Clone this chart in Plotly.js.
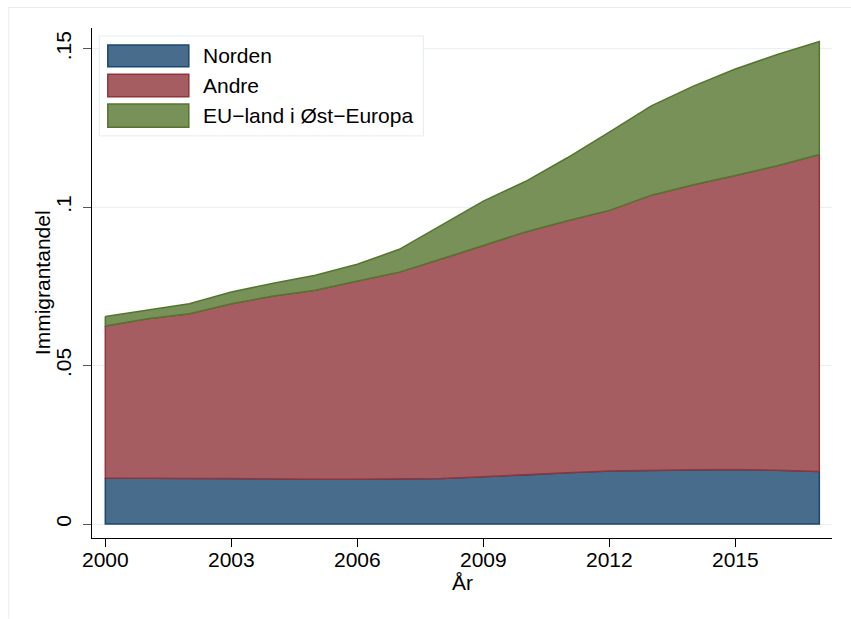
<!DOCTYPE html>
<html>
<head>
<meta charset="utf-8">
<script src="https://cdn.plot.ly/plotly-3.0.1.min.js"></script>
<style>
  html, body { margin: 0; padding: 0; background: #ffffff; }
  #chart { width: 851px; height: 619px; }
</style>
</head>
<body>
<div id="chart"></div>
<script>
// ---- Data ----
const years = [2000, 2001, 2002, 2003, 2004, 2005, 2006, 2007, 2008, 2009,
               2010, 2011, 2012, 2013, 2014, 2015, 2016, 2017];
const norden = [0.0145, 0.0145, 0.0144, 0.0144, 0.0143, 0.0141, 0.0141, 0.0142, 0.0144, 0.0149,
                0.0155, 0.0162, 0.0167, 0.0169, 0.0171, 0.0172, 0.0170, 0.0166];
const andre  = [0.0480, 0.0503, 0.0520, 0.0551, 0.0577, 0.0597, 0.0626, 0.0653, 0.0692, 0.0730,
                0.0767, 0.0795, 0.0823, 0.0869, 0.0900, 0.0928, 0.0961, 0.1000];
const euOst  = [0.0030, 0.0028, 0.0031, 0.0037, 0.0040, 0.0047, 0.0053, 0.0072, 0.0108, 0.0140,
                0.0159, 0.0199, 0.0247, 0.0282, 0.0311, 0.0336, 0.0351, 0.0357];
const seriesNames = ["Norden", "Andre", "EU\u2212land i \u00D8st\u2212Europa"];
const yTickVals = [0, 0.05, 0.1, 0.15];
const yTickText = ["0", ".05", ".1", ".15"];
const xTickVals = [2000, 2003, 2006, 2009, 2012, 2015];
const xTickText = ["2000", "2003", "2006", "2009", "2012", "2015"];
const xTitle = "\u00C5r";
const yTitle = "Immigrantandel";

// ---- Styles ----
const lineColors = ["#1a476f", "#90353b", "#55752f"];
const fillColors = ["#486c8c", "#a65d62", "#779159"];
const FONT = "Liberation Sans, Arial, Helvetica, sans-serif";

// Build stacked band polygons (each band outlined, like Stata's stacked areas)
const seriesVals = [norden, andre, euOst];
const traces = [];
let base = years.map(() => 0);
seriesVals.forEach((vals, i) => {
  const top = base.map((b, k) => b + vals[k]);
  const xs = years.concat(years.slice().reverse());
  const ys = top.concat(base.slice().reverse());
  traces.push({
    x: xs.concat([xs[0]]),
    y: ys.concat([ys[0]]),
    type: "scatter",
    mode: "lines",
    fill: "toself",
    fillcolor: fillColors[i],
    line: { color: lineColors[i], width: 1.5 },
    name: seriesNames[i],
    showlegend: false,
    hoverinfo: "skip"
  });
  base = top;
});

// ---- Geometry of the plot area (pixels) ----
const W = 851, H = 619;
const L = 91.7, R = 831.7, T = 28, B = 538.3;
const pw = R - L, ph = B - T;
const px = x => (x - L) / pw;
const py = y => (B - y) / ph;

// Custom legend (large swatches as in the reference)
const shapes = [];
const annotations = [];
shapes.push({ type: "rect", xref: "paper", yref: "paper",
  x0: px(99), x1: px(423), y0: py(136), y1: py(36),
  line: { color: "#e4ecee", width: 1 }, fillcolor: "#ffffff", layer: "above" });
const rows = [[45, 66.7], [74.3, 96.7], [104, 127.3]];
rows.forEach((r, i) => {
  shapes.push({ type: "rect", xref: "paper", yref: "paper",
    x0: px(107.5), x1: px(188.5), y0: py(r[1]), y1: py(r[0]),
    line: { color: lineColors[i], width: 1.5 }, fillcolor: fillColors[i], layer: "above" });
  annotations.push({ xref: "paper", yref: "paper",
    x: px(201), y: py((r[0] + r[1]) / 2), xanchor: "left", yanchor: "middle",
    text: seriesNames[i], showarrow: false,
    font: { family: FONT, size: 21, color: "#000000" } });
});
// axis titles
annotations.push({ xref: "paper", yref: "paper", x: px(461.7), y: py(583),
  xanchor: "center", yanchor: "middle", text: xTitle, showarrow: false,
  font: { family: FONT, size: 21, color: "#000000" } });
annotations.push({ xref: "paper", yref: "paper", x: px(43), y: py(283),
  xanchor: "center", yanchor: "middle", textangle: -90, text: yTitle, showarrow: false,
  font: { family: FONT, size: 21, color: "#000000" } });
// faint outer frame of the graph region
shapes.push({ type: "line", xref: "paper", yref: "paper",
  x0: px(8.5), x1: px(8.5), y0: py(619), y1: py(7.5),
  line: { color: "#e6eef0", width: 1 }, layer: "below" });
shapes.push({ type: "line", xref: "paper", yref: "paper",
  x0: px(8.5), x1: px(851), y0: py(7.5), y1: py(7.5),
  line: { color: "#e6eef0", width: 1 }, layer: "below" });

const layout = {
  width: W, height: H,
  margin: { l: L, r: W - R, t: T, b: H - B, pad: 0 },
  paper_bgcolor: "#ffffff",
  plot_bgcolor: "#ffffff",
  showlegend: false,
  font: { family: FONT, size: 21, color: "#000000" },
  xaxis: {
    range: [1999.683, 2017.302],
    tickvals: xTickVals, ticktext: xTickText,
    ticks: "outside", ticklen: 8, tickwidth: 1, tickcolor: "#000000",
    ticklabelstandoff: -6,
    showline: true, linecolor: "#000000", linewidth: 1.3,
    showgrid: false, zeroline: false, mirror: false,
    tickfont: { family: FONT, size: 21, color: "#000000" }
  },
  yaxis: {
    range: [-0.00442, 0.15656],
    tickvals: yTickVals, ticktext: yTickText,
    tickangle: -90,
    ticks: "outside", ticklen: 8, tickwidth: 1, tickcolor: "#555555",
    ticklabelstandoff: 3,
    showline: true, linecolor: "#000000", linewidth: 1.3,
    showgrid: true, gridcolor: "#e8f0f2", gridwidth: 1,
    zeroline: false,
    tickfont: { family: FONT, size: 21, color: "#000000" }
  },
  shapes: shapes,
  annotations: annotations
};

Plotly.newPlot("chart", traces, layout, { displayModeBar: false, staticPlot: true });
</script>
</body>
</html>
